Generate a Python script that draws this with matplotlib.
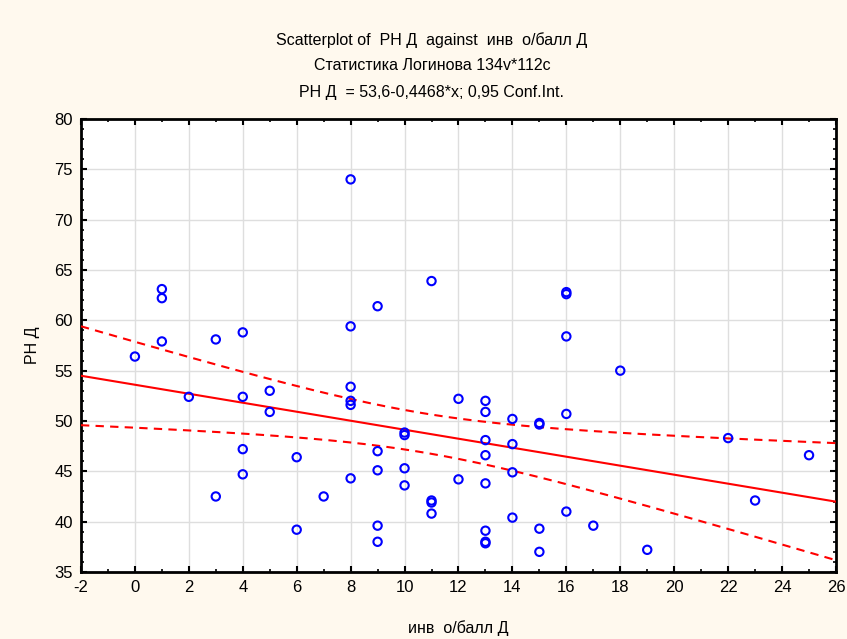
import numpy as np
import matplotlib
matplotlib.use("Agg")
import matplotlib.pyplot as plt
from matplotlib.ticker import MultipleLocator

plt.rcParams['font.family'] = ['Liberation Sans', 'DejaVu Sans']
plt.rcParams['axes.unicode_minus'] = False

# Scores (x) and РН Д values (y), grouped by x
inv_score = [0,
             1, 1, 1,
             2,
             3, 3,
             4, 4, 4, 4,
             5, 5,
             6, 6,
             7,
             8, 8, 8, 8, 8, 8,
             9, 9, 9, 9, 9,
             10, 10, 10, 10,
             11, 11, 11, 11,
             12, 12,
             13, 13, 13, 13, 13, 13, 13, 13,
             14, 14, 14, 14,
             15, 15, 15, 15,
             16, 16, 16, 16, 16,
             17, 18, 19, 22, 23, 25]
rn_d = [56.4,
        63.1, 62.2, 57.9,
        52.4,
        58.1, 42.5,
        58.8, 52.4, 47.2, 44.7,
        53.0, 50.9,
        46.4, 39.2,
        42.5,
        74.0, 59.4, 53.4, 52.0, 51.6, 44.3,
        61.4, 47.0, 45.1, 39.6, 38.0,
        48.85, 48.6, 45.3, 43.6,
        63.9, 42.1, 41.9, 40.8,
        52.2, 44.2,
        52.0, 50.9, 48.1, 46.6, 43.8, 39.1, 38.0, 37.85,
        50.2, 47.7, 44.9, 40.4,
        49.8, 49.65, 39.3, 37.0,
        62.8, 62.6, 58.4, 50.7, 41.0,
        39.6, 55.0, 37.2, 48.3, 42.1, 46.6]

# Regression equation as printed in the subtitle
intercept = 53.6
slope = -0.4468
t_crit = 1.999  # two-sided 95% t quantile, df = n - 2

x = np.array(inv_score, dtype=float)
y = np.array(rn_d, dtype=float)
n = len(x)
resid = y - (intercept + slope * x)
s = np.sqrt(np.sum(resid ** 2) / (n - 2))
xbar = x.mean()
sxx = np.sum((x - xbar) ** 2)

xs = np.linspace(-2, 26, 300)
fit = intercept + slope * xs
half = t_crit * s * np.sqrt(1.0 / n + (xs - xbar) ** 2 / sxx)

bg = '#FFF9EE'
fig = plt.figure(figsize=(8.47, 6.39), dpi=100, facecolor=bg)
ax = fig.add_axes([0.0956, 0.1049, 0.8914, 0.7089])
ax.set_facecolor('white')

ax.plot(xs, fit, color='#FF0000', lw=1.5, zorder=3)
ax.plot(xs, fit + half, color='#FF0000', lw=1.5, ls=(0, (4, 3)), zorder=3)
ax.plot(xs, fit - half, color='#FF0000', lw=1.5, ls=(0, (4, 3)), zorder=3)
ax.scatter(x, y, s=36, facecolors='none', edgecolors='#0000FF', linewidths=1.5, zorder=4)

ax.set_xlim(-2, 26)
ax.set_ylim(35, 80)
ax.xaxis.set_major_locator(MultipleLocator(2))
ax.xaxis.set_minor_locator(MultipleLocator(1))
ax.yaxis.set_major_locator(MultipleLocator(5))
ax.yaxis.set_minor_locator(MultipleLocator(1))
ax.grid(True, which='major', color='#DEDEDE', lw=1.0, zorder=0)
ax.set_axisbelow(True)

ax.tick_params(which='both', direction='in', top=True, right=True,
               labelsize=12, colors='black', pad=6)
ax.tick_params(which='major', length=4, width=1.5)
ax.tick_params(which='minor', length=2.5, width=1.2)
for sp in ax.spines.values():
    sp.set_linewidth(2.0)
    sp.set_color('black')

ax.set_xlabel('инв  о/балл Д', fontsize=11.5, labelpad=18)
ax.set_ylabel('РН Д', fontsize=11.5, labelpad=10)

title_kw = dict(ha='center', va='center', fontsize=11.5)
fig.text(0.51, 0.937, 'Scatterplot of  РН Д  against  инв  о/балл Д', **title_kw)
fig.text(0.51, 0.897, 'Статистика Логинова 134v*112c', **title_kw)
fig.text(0.51, 0.855, 'РН Д  = 53,6-0,4468*x; 0,95 Conf.Int.', **title_kw)

fig.savefig('out.png', dpi=100, facecolor=bg)
